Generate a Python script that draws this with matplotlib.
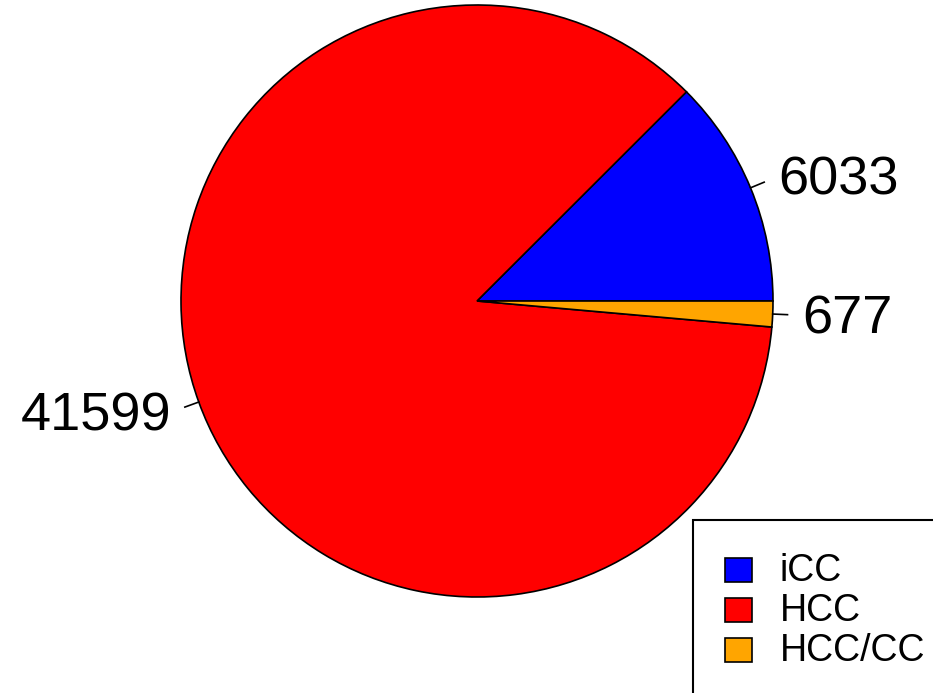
import numpy as np
import matplotlib.pyplot as plt
from matplotlib.patches import Rectangle

labels = ["iCC", "HCC", "HCC/CC"]
counts = [6033, 41599, 677]
colors = ["#0000FF", "#FF0000", "#FFA500"]

W, H = 933, 693
fig = plt.figure(figsize=(W / 100, H / 100), dpi=100)
ax = fig.add_axes([0, 0, 1, 1])
ax.set_xlim(0, W)
ax.set_ylim(0, H)
ax.set_aspect("equal")
ax.axis("off")

cx, cy, r = 477, H - 301, 296
ax.pie(counts, colors=colors, center=(cx, cy), radius=r, startangle=0,
       counterclock=True, wedgeprops=dict(edgecolor="black", linewidth=1.2))
ax.set_xlim(0, W)
ax.set_ylim(0, H)

total = sum(counts)
start = 0.0
for c in counts:
    span = 360.0 * c / total
    mid = np.deg2rad(start + span / 2)
    dx, dy = np.cos(mid), np.sin(mid)
    ax.plot([cx + r * dx, cx + 1.05 * r * dx], [cy + r * dy, cy + 1.05 * r * dy],
            color="black", lw=1.2)
    ax.text(cx + 1.1 * r * dx, cy + 1.1 * r * dy - 4, str(c), fontsize=39,
            family="Liberation Sans", ha="left" if dx > 0 else "right", va="center")
    start += span

# legend drawn by hand, clipped by the figure edge
ax.add_patch(Rectangle((693, -10), 300, H - 520 + 10, facecolor="white",
                       edgecolor="black", lw=1.5, clip_on=False))
for i, (lab, col) in enumerate(zip(labels, colors)):
    y = H - 570 - 40 * i
    ax.add_patch(Rectangle((725, y - 12), 27, 24, facecolor=col, edgecolor="black", lw=1.2))
    ax.text(780, y - 1, lab, fontsize=27, family="Liberation Sans", va="center", ha="left")

fig.savefig("out.png", dpi=100)
